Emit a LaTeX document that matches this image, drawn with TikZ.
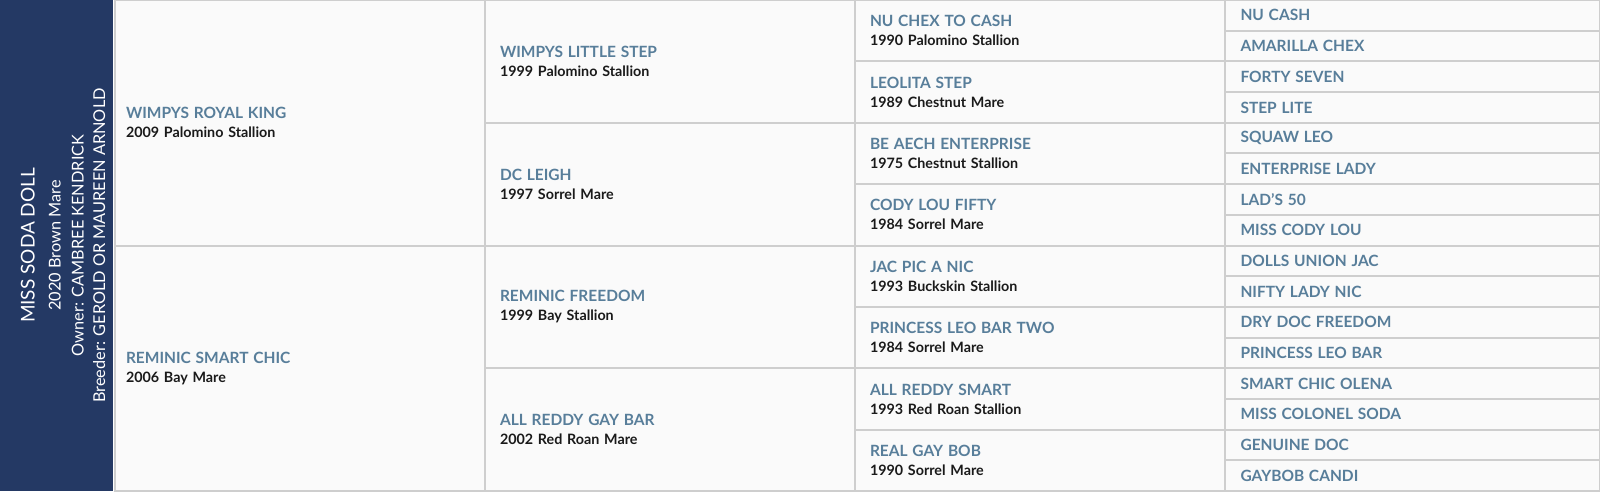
\documentclass[tikz,border=0pt]{standalone}
\usepackage{fontspec}
\setmainfont{Lato}
\usetikzlibrary{positioning}
\definecolor{PanelColor}{RGB}{36,57,100}
\definecolor{NameColor}{RGB}{88,126,154}
\definecolor{InfoColor}{RGB}{26,26,26}
\definecolor{GridColor}{RGB}{206,206,206}
\definecolor{CellColor}{RGB}{250,250,250}
\newcommand{\pedname}[1]{{\color{NameColor}\fontsize{15.5}{19}\selectfont\bfseries #1}}
\newcommand{\pedinfo}[1]{{\color{InfoColor}\bfseries #1}}
\tikzstyle{cell} = [draw=GridColor, line width=2pt, fill=CellColor, anchor=north west, inner ysep=0pt, outer sep=0pt, align=left, font=\fontsize{14.3}{19}\selectfont]
\tikzstyle{gen1} = [cell, inner xsep=11.5pt, text width=347pt, minimum height=245.5pt]
\tikzstyle{gen2} = [cell, inner xsep=15pt, text width=340pt, minimum height=122.75pt]
\tikzstyle{gen3} = [cell, inner xsep=15pt, text width=340pt, minimum height=61.375pt]
\tikzstyle{gen4} = [cell, inner xsep=15.5pt, text width=344pt, minimum height=30.6875pt]
\tikzstyle{paneltext} = [white, rotate=90, anchor=base, inner sep=0pt, font=\fontsize{16.3}{20}\selectfont]

\begin{document}
\begin{tikzpicture}[x=1pt, y=-1pt]
        \useasboundingbox (0,0) rectangle (1600,491);

        % Horse panel
        \fill[PanelColor] (0,0) rectangle (113,491);
        \node[paneltext, font=\fontsize{19}{23}\selectfont] (horse) at (34.5,245.5) {MISS SODA DOLL};
        \node[paneltext] (born) at (60.5,245.5) {2020 Brown Mare};
        \node[paneltext] (owner) at (83.5,245.5) {Owner: CAMBREE KENDRICK};
        \node[paneltext] (breeder) at (105,245.5) {Breeder: GEROLD OR MAUREEN ARNOLD};

        % Parents
        \node[gen1] (s) at (114.5,0) {\pedname{WIMPYS ROYAL KING}\\\pedinfo{2009 Palomino Stallion}};
        \node[gen1] (d) at (114.5,245.5) {\pedname{REMINIC SMART CHIC}\\\pedinfo{2006 Bay Mare}};

        % Grandparents
        \node[gen2] (ss) at (485,0) {\pedname{WIMPYS LITTLE STEP}\\\pedinfo{1999 Palomino Stallion}};
        \node[gen2] (sd) at (485,122.75) {\pedname{DC LEIGH}\\\pedinfo{1997 Sorrel Mare}};
        \node[gen2] (ds) at (485,245.5) {\pedname{REMINIC FREEDOM}\\\pedinfo{1999 Bay Stallion}};
        \node[gen2] (dd) at (485,368.25) {\pedname{ALL REDDY GAY BAR}\\\pedinfo{2002 Red Roan Mare}};

        % Great grandparents
        \node[gen3] (sss) at (855,0) {\pedname{NU CHEX TO CASH}\\\pedinfo{1990 Palomino Stallion}};
        \node[gen3] (ssd) at (855,61.375) {\pedname{LEOLITA STEP}\\\pedinfo{1989 Chestnut Mare}};
        \node[gen3] (sds) at (855,122.75) {\pedname{BE AECH ENTERPRISE}\\\pedinfo{1975 Chestnut Stallion}};
        \node[gen3] (sdd) at (855,184.125) {\pedname{CODY LOU FIFTY}\\\pedinfo{1984 Sorrel Mare}};
        \node[gen3] (dss) at (855,245.5) {\pedname{JAC PIC A NIC}\\\pedinfo{1993 Buckskin Stallion}};
        \node[gen3] (dsd) at (855,306.875) {\pedname{PRINCESS LEO BAR TWO}\\\pedinfo{1984 Sorrel Mare}};
        \node[gen3] (dds) at (855,368.25) {\pedname{ALL REDDY SMART}\\\pedinfo{1993 Red Roan Stallion}};
        \node[gen3] (ddd) at (855,429.625) {\pedname{REAL GAY BOB}\\\pedinfo{1990 Sorrel Mare}};

        % Great great grandparents
        \node[gen4] (ssss) at (1225,0) {\pedname{NU CASH}};
        \node[gen4] (sssd) at (1225,30.6875) {\pedname{AMARILLA CHEX}};
        \node[gen4] (ssds) at (1225,61.375) {\pedname{FORTY SEVEN}};
        \node[gen4] (ssdd) at (1225,92.0625) {\pedname{STEP LITE}};
        \node[gen4] (sdss) at (1225,122.75) {\pedname{SQUAW LEO}};
        \node[gen4] (sdsd) at (1225,153.4375) {\pedname{ENTERPRISE LADY}};
        \node[gen4] (sdds) at (1225,184.125) {\pedname{LAD'S 50}};
        \node[gen4] (sddd) at (1225,214.8125) {\pedname{MISS CODY LOU}};
        \node[gen4] (dsss) at (1225,245.5) {\pedname{DOLLS UNION JAC}};
        \node[gen4] (dssd) at (1225,276.1875) {\pedname{NIFTY LADY NIC}};
        \node[gen4] (dsds) at (1225,306.875) {\pedname{DRY DOC FREEDOM}};
        \node[gen4] (dsdd) at (1225,337.5625) {\pedname{PRINCESS LEO BAR}};
        \node[gen4] (ddss) at (1225,368.25) {\pedname{SMART CHIC OLENA}};
        \node[gen4] (ddsd) at (1225,398.9375) {\pedname{MISS COLONEL SODA}};
        \node[gen4] (ddds) at (1225,429.625) {\pedname{GENUINE DOC}};
        \node[gen4] (dddd) at (1225,460.3125) {\pedname{GAYBOB CANDI}};

      \end{tikzpicture}
\end{document}
